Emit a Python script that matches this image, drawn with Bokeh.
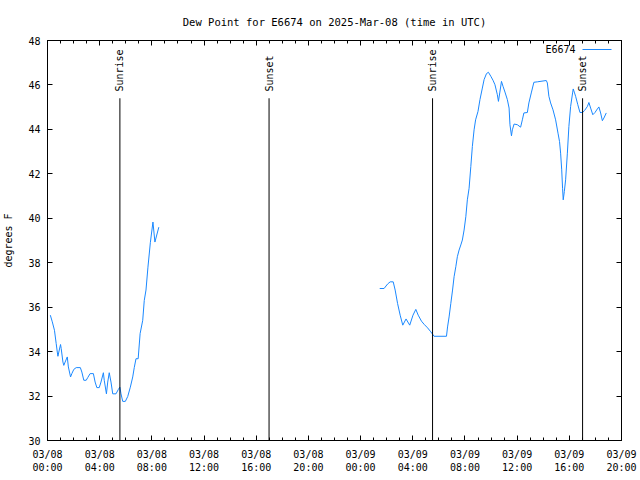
import numpy as np
import pandas as pd
from bokeh.plotting import figure
from bokeh.models import (Range1d, FixedTicker, DatetimeTickFormatter, DatetimeAxis, LinearAxis, Label,
                          Arrow, CustomJSTickFormatter)
from bokeh.core.properties import value
from bokeh.embed import file_html
from bokeh.resources import INLINE

station = "E6674"
title_text = "Dew Point for E6674 on 2025-Mar-08 (time in UTC)"
y_label = "degrees F"

day1_date = "2025-03-08"
day1_times = ["00:13", "00:22", "00:32", "00:40", "00:45", "00:48", "00:52", "01:00", "01:03", "01:11",
              "01:15", "01:21", "01:31", "01:36", "01:46", "01:52", "02:01", "02:12", "02:31", "02:38",
              "02:47", "02:58", "03:05", "03:16", "03:31", "03:39", "03:47", "03:58", "04:06", "04:17",
              "04:21", "04:31", "04:37", "04:44", "04:52", "05:00", "05:15", "05:26", "05:33", "05:38",
              "05:46", "05:58", "06:09", "06:21", "06:32", "06:39", "06:47", "06:57", "07:06", "07:18",
              "07:25", "07:33", "07:42", "07:53", "08:05", "08:14", "08:32"]
day1_dew = [35.64, 35.34, 34.96, 34.36, 33.98, 33.79, 33.98, 34.32, 34.14, 33.53,
            33.38, 33.53, 33.76, 33.31, 32.86, 33.01, 33.20, 33.28, 33.28, 33.08,
            32.71, 32.71, 32.83, 33.01, 33.01, 32.63, 32.38, 32.38, 32.63, 33.05,
            32.71, 32.10, 32.63, 33.05, 32.63, 32.10, 32.10, 32.30, 32.40, 32.10,
            31.76, 31.76, 31.98, 32.40, 32.86, 33.28, 33.68, 33.68, 34.81, 35.41,
            36.30, 36.77, 37.80, 38.90, 39.83, 38.93, 39.60]

day2_date = "2025-03-09"
day2_times = ["01:28", "01:48", "02:04", "02:16", "02:30", "02:39", "02:50", "03:02", "03:14", "03:29",
              "03:46", "04:01", "04:14", "04:25", "04:40", "04:52", "05:08", "05:23", "05:38", "06:35",
              "06:40", "06:47", "06:55", "07:03", "07:10", "07:18", "07:25", "07:33", "07:41", "07:48",
              "07:56", "08:04", "08:11", "08:19", "08:27", "08:34", "08:42", "08:49", "09:00", "09:09",
              "09:20", "09:28", "09:39", "09:48", "09:59", "10:09", "10:18", "10:29", "10:34", "10:40",
              "10:48", "10:55", "11:04", "11:15", "11:23", "11:27", "11:34", "11:38", "11:46", "12:01",
              "12:16", "12:24", "12:31", "12:47", "12:54", "13:05", "13:17", "13:33", "14:14", "14:19",
              "14:26", "14:34", "14:45", "14:57", "15:08", "15:15", "15:20", "15:25", "15:29", "15:32",
              "15:37", "15:43", "15:51", "15:58", "16:06", "16:15", "16:18", "16:24", "16:29", "16:39",
              "16:49", "17:01", "17:10", "17:23", "17:30", "17:38", "17:48", "17:58", "18:09", "18:16",
              "18:24", "18:32", "18:39", "18:50"]
day2_dew = [36.84, 36.84, 37.04, 37.14, 37.14, 36.77, 36.17, 35.64, 35.19, 35.47,
            35.19, 35.64, 35.90, 35.64, 35.37, 35.23, 35.07, 34.89, 34.69, 34.69,
            35.11, 35.56, 36.17, 36.77, 37.37, 37.82, 38.27, 38.57, 38.80, 39.02,
            39.47, 40.07, 40.83, 41.35, 42.33, 43.23, 43.98, 44.43, 44.81, 45.34,
            45.86, 46.24, 46.51, 46.57, 46.39, 46.21, 46.01, 45.56, 45.26, 45.64,
            46.16, 45.94, 45.68, 45.34, 44.96, 44.21, 43.71, 43.98, 44.24, 44.21,
            44.10, 44.43, 44.74, 44.76, 45.19, 45.64, 46.12, 46.14, 46.20, 46.09,
            45.49, 45.19, 44.88, 44.43, 43.83, 43.45, 42.93, 42.18, 41.35, 40.83,
            41.20, 41.73, 42.93, 44.13, 45.03, 45.64, 45.82, 45.64, 45.49, 45.11,
            44.76, 44.76, 44.85, 45.03, 45.21, 44.96, 44.66, 44.76, 44.92, 45.01,
            44.74, 44.39, 44.51, 44.74]

sun_events = ["2025-03-08 05:33", "2025-03-08 16:59", "2025-03-09 05:31", "2025-03-09 17:01"]
sun_labels = ["Sunrise", "Sunset", "Sunrise", "Sunset"]

x_start = "2025-03-08 00:00"
x_end = "2025-03-09 20:00"
y_ticks = [30, 32, 34, 36, 38, 40, 42, 44, 46, 48]

FONT = "DejaVu Sans Mono"
LINE_COLOR = "#1a88ff"

t1 = pd.to_datetime([day1_date + " " + t for t in day1_times])
t2 = pd.to_datetime([day2_date + " " + t for t in day2_times])
sun_t = pd.to_datetime(sun_events)

x0 = pd.Timestamp(x_start)
x1 = pd.Timestamp(x_end)

p = figure(width=640, height=480, x_axis_type="datetime",
           x_range=Range1d(x0, x1), y_range=Range1d(y_ticks[0], y_ticks[-1]),
           output_backend="svg", toolbar_location=None,
           min_border_left=46, min_border_right=19, min_border_top=40, min_border_bottom=40)
p.background_fill_color = "white"
p.border_fill_color = "white"
p.outline_line_color = "black"
p.outline_line_width = 1
p.xgrid.visible = False
p.ygrid.visible = False

p.title.text = title_text
p.title.align = "center"
p.title.text_font = FONT
p.title.text_font_size = "10.5px"
p.title.text_font_style = "normal"
p.title.text_color = "black"
p.title.standoff = 25

major = pd.date_range(x0, x1, freq="4h")
minor = pd.date_range(x0, x1, freq="1h")
x_ticker = FixedTicker(ticks=[float(v) for v in (major.asi8 // 10**6)],
                       minor_ticks=[float(v) for v in (minor.asi8 // 10**6)])
fmt_str = "%m/%d\n%H:%M"
x_fmt = DatetimeTickFormatter(milliseconds=fmt_str, seconds=fmt_str, minsec=fmt_str, minutes=fmt_str,
                              hourmin=fmt_str, hours=fmt_str, days=fmt_str, months=fmt_str, years=fmt_str)
y_ticker = FixedTicker(ticks=y_ticks)
blank_fmt = CustomJSTickFormatter(code="return ''")


def style_axis(ax, show_labels=True, minor=True):
    ax.axis_line_color = "black"
    ax.major_tick_line_color = "black"
    ax.major_tick_in = 5
    ax.major_tick_out = 0
    if minor:
        ax.minor_tick_line_color = "black"
        ax.minor_tick_in = 3
        ax.minor_tick_out = 0
    else:
        ax.minor_tick_line_color = None
    ax.major_label_text_font = FONT
    ax.major_label_text_color = "black"
    ax.major_label_text_font_size = "10px"
    if not show_labels:
        ax.formatter = blank_fmt
        ax.major_label_standoff = 0


xa = p.xaxis[0]
xa.ticker = x_ticker
xa.formatter = x_fmt
style_axis(xa)
xa.major_label_standoff = 8

ya = p.yaxis[0]
ya.ticker = y_ticker
style_axis(ya, minor=False)
ya.major_label_standoff = 7
ya.axis_label = y_label
ya.axis_label_text_font = FONT
ya.axis_label_text_font_size = "10px"
ya.axis_label_text_font_style = "normal"
ya.axis_label_text_color = "black"
ya.axis_label_standoff = 11

top = LinearAxis(ticker=x_ticker)
style_axis(top, show_labels=False)
p.add_layout(top, "above")

right = LinearAxis(ticker=y_ticker)
style_axis(right, show_labels=False, minor=False)
p.add_layout(right, "right")

# data line (with data gap)
p.multi_line(xs=[list(t1), list(t2)], ys=[day1_dew, day2_dew], line_color=LINE_COLOR, line_width=1)

# sunrise / sunset markers
p.segment(x0=sun_t, y0=y_ticks[0], x1=sun_t, y1=45.4, line_color="black", line_width=1)
p.text(x=sun_t, y=45.7, text=sun_labels, angle=np.pi / 2, text_align="left", text_baseline="middle",
       text_font=value(FONT), text_font_size="10px", text_color="black")

# legend (gnuplot style: label then line sample)
p.add_layout(Label(x=528, y=391, x_units="screen", y_units="screen", text=station,
                   text_align="right", text_baseline="middle", text_font=FONT,
                   text_font_size="10px", text_color="black"))
p.add_layout(Arrow(end=None, x_start=535, y_start=391, x_end=564, y_end=391,
                   start_units="screen", end_units="screen", line_color=LINE_COLOR, line_width=1))

open("out.html", "w").write(file_html(p, INLINE))
